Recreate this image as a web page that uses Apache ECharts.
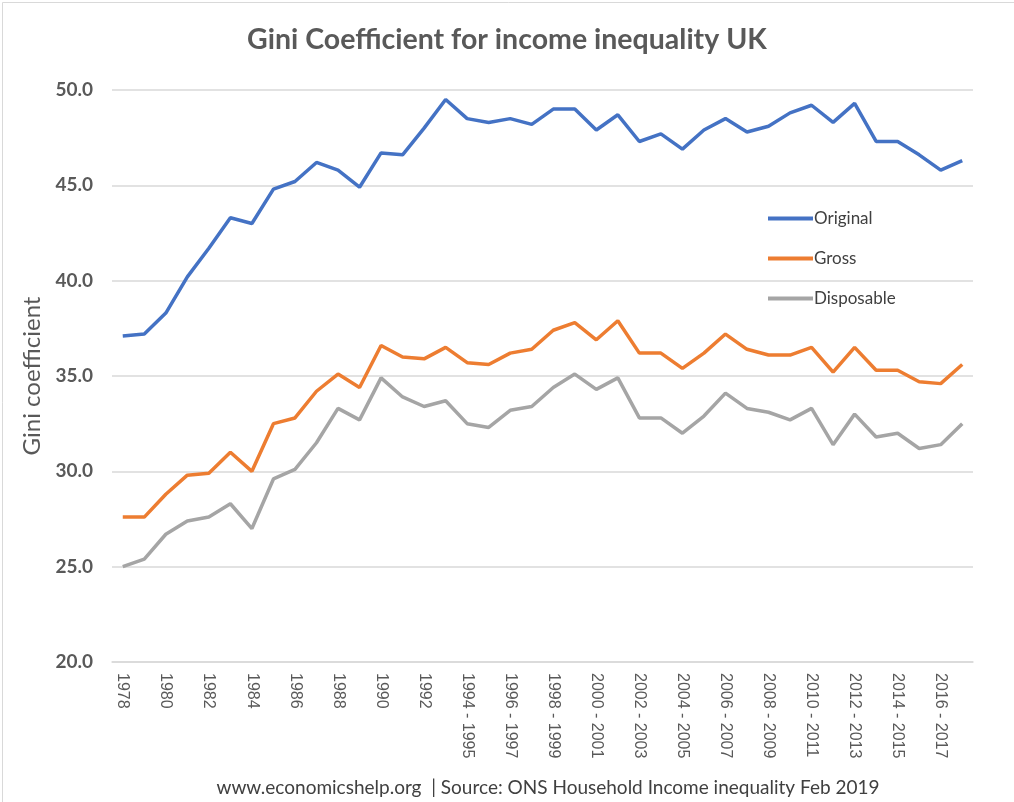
<!DOCTYPE html>
<html>
<head>
<meta charset="utf-8">
<script src="https://cdn.jsdelivr.net/npm/echarts@6/dist/echarts.min.js"></script>
<style>
html,body{margin:0;padding:0;background:#fff;}
#chart{width:1014px;height:802px;}
</style>
</head>
<body>
<div id="chart"></div>
<script>
const categories = [
  "1978","1979","1980","1981","1982","1983","1984","1985","1986","1987",
  "1988","1989","1990","1991","1992","1993",
  "1994 - 1995","1995 - 1996","1996 - 1997","1997 - 1998","1998 - 1999","1999 - 2000",
  "2000 - 2001","2001 - 2002","2002 - 2003","2003 - 2004","2004 - 2005","2005 - 2006",
  "2006 - 2007","2007 - 2008","2008 - 2009","2009 - 2010","2010 - 2011","2011 - 2012",
  "2012 - 2013","2013 - 2014","2014 - 2015","2015 - 2016","2016 - 2017","2017 - 2018"
];
const original = [
  37.1,37.2,38.3,40.2,41.7,43.3,43.0,44.8,45.2,46.2,
  45.8,44.9,46.7,46.6,48.0,49.5,
  48.5,48.3,48.5,48.2,49.0,49.0,
  47.9,48.7,47.3,47.7,46.9,47.9,
  48.5,47.8,48.1,48.8,49.2,48.3,
  49.3,47.3,47.3,46.6,45.8,46.3
];
const gross = [
  27.6,27.6,28.8,29.8,29.9,31.0,30.0,32.5,32.8,34.2,
  35.1,34.4,36.6,36.0,35.9,36.5,
  35.7,35.6,36.2,36.4,37.4,37.8,
  36.9,37.9,36.2,36.2,35.4,36.2,
  37.2,36.4,36.1,36.1,36.5,35.2,
  36.5,35.3,35.3,34.7,34.6,35.6
];
const disposable = [
  25.0,25.4,26.7,27.4,27.6,28.3,27.0,29.6,30.1,31.5,
  33.3,32.7,34.9,33.9,33.4,33.7,
  32.5,32.3,33.2,33.4,34.4,35.1,
  34.3,34.9,32.8,32.8,32.0,32.9,
  34.1,33.3,33.1,32.7,33.3,31.4,
  33.0,31.8,32.0,31.2,31.4,32.5
];
const seriesNames = ["Original","Gross","Disposable"];
const colors = ["#4472C4","#ED7D31","#A5A5A5"];

const chart = echarts.init(document.getElementById('chart'), null, {renderer:'canvas'});
const font = 'Lato, "Open Sans", sans-serif';
const mk = (name, data, color) => ({
  name, type:'line', data, showSymbol:false, symbol:'none',
  lineStyle:{width:3.5, color}, itemStyle:{color}, animation:false
});
chart.setOption({
  backgroundColor:'#fff',
  textStyle:{fontFamily:font},
  title:[{
    text:'Gini Coefficient for income inequality UK',
    left:'center', top:20,
    textStyle:{fontSize:28.5, fontWeight:'bold', color:'#595959', fontFamily:font}
  },{
    text:'www.economicshelp.org  | Source: ONS Household Income inequality Feb 2019',
    left:543, top:773, textAlign:'center',
    textStyle:{fontSize:19, fontWeight:'normal', color:'#404040', fontFamily:font}
  }],
  legend:{
    orient:'vertical', left:763, top:205, itemGap:23,
    itemWidth:45, itemHeight:4, icon:'rect',
    data:seriesNames,
    textStyle:{fontSize:17, color:'#404040', fontFamily:font, padding:[0,0,0,-4]}
  },
  grid:{left:112, right:41, top:90, bottom:140},
  xAxis:{
    type:'category', data:categories, boundaryGap:true,
    axisLine:{show:true, lineStyle:{color:'#d9d9d9', width:1.5}},
    axisTick:{show:false},
    axisLabel:{rotate:-90, interval:1, margin:11, fontSize:16, color:'#595959',
      fontFamily:'"Liberation Sans", Arial, sans-serif'}
  },
  yAxis:{
    type:'value', min:20, max:50, interval:5,
    name:'Gini coefficient', nameLocation:'middle', nameGap:66,
    nameTextStyle:{fontSize:24, color:'#595959', fontFamily:font},
    axisLine:{show:false}, axisTick:{show:false},
    splitLine:{lineStyle:{color:'#d9d9d9', width:1.5}},
    axisLabel:{fontSize:19, fontWeight:'bold', color:'#595959', margin:19,
      formatter:v=>v.toFixed(1), fontFamily:font}
  },
  graphic:[{type:'rect', left:0, top:0, shape:{width:1013, height:801},
    style:{fill:'none', stroke:'#d9d9d9', lineWidth:1}, silent:true}],
  series:[mk(seriesNames[0], original, colors[0]), mk(seriesNames[1], gross, colors[1]), mk(seriesNames[2], disposable, colors[2])]
});
</script>
</body>
</html>
